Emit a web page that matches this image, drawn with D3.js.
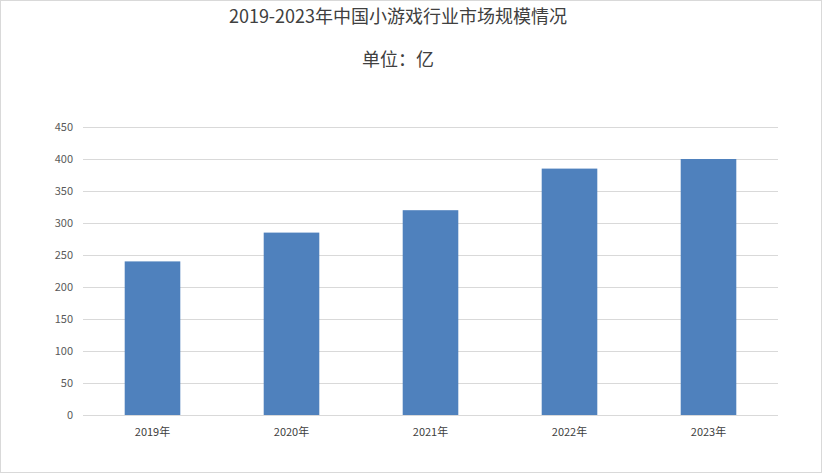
<!DOCTYPE html>
<html><head><meta charset="utf-8">
<script src="https://cdn.jsdelivr.net/npm/d3@7"></script>
<style>body{margin:0;background:#fff}svg{display:block}</style>
</head><body><svg id="c" width="822" height="473"></svg>
<script>
const categories=["2019年","2020年","2021年","2022年","2023年"];
const values=[240,285,320,385,400];
const ticks=[0,50,100,150,200,250,300,350,400,450];
const title="2019-2023年中国小游戏行业市场规模情况";
const subtitle="单位：亿";
const svg=d3.select("#c");
const font="'Noto Sans CJK SC','Noto Sans',sans-serif";
svg.append("rect").attr("x",0.5).attr("y",0.5).attr("width",821).attr("height",472).attr("fill","#fff").attr("stroke","#d9d9d9");
const L=83,R=778,T=127,B=415;
const x=d3.scaleBand().domain(categories).range([L,R]).paddingInner(0.6).paddingOuter(0.3);
const y=d3.scaleLinear().domain([0,450]).range([B,T]);
svg.append("g").selectAll("line").data(ticks).join("line")
 .attr("x1",L).attr("x2",R).attr("y1",d=>y(d)+0.5).attr("y2",d=>y(d)+0.5).attr("stroke","#d9d9d9");
svg.append("g").selectAll("text").data(ticks).join("text")
 .attr("x",73).attr("y",d=>y(d)+4).attr("text-anchor","end").attr("font-size",11).attr("font-family",font).attr("fill","#595959").text(d=>d);
svg.append("g").selectAll("rect").data(values).join("rect")
 .attr("x",(d,i)=>x(categories[i])).attr("width",x.bandwidth()).attr("y",d=>y(d)).attr("height",d=>B-y(d)).attr("fill","#4f81bd");
svg.append("g").selectAll("text").data(categories).join("text")
 .attr("x",d=>x(d)+x.bandwidth()/2).attr("y",436).attr("text-anchor","middle").attr("font-size",11).attr("font-family",font).attr("fill","#404040").text(d=>d);
svg.append("text").attr("x",398).attr("y",23).attr("text-anchor","middle").attr("font-size",18).attr("font-family",font).attr("fill","#404040").text(title);
svg.append("text").attr("x",398).attr("y",66).attr("text-anchor","middle").attr("font-size",18).attr("font-family",font).attr("fill","#404040").text(subtitle);
</script></body></html>
